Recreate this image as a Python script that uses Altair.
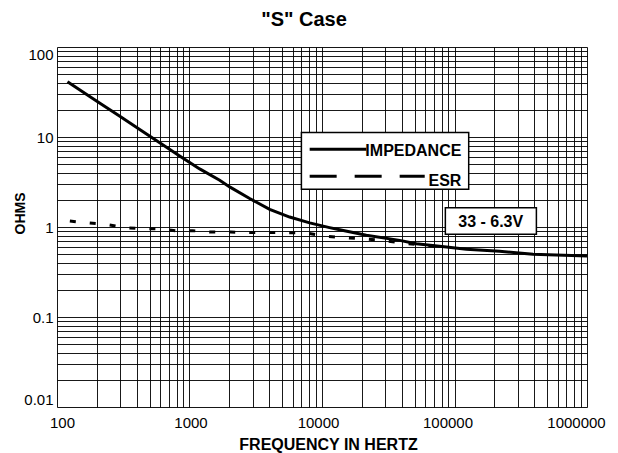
import altair as alt
import pandas as pd

# ---- data ----
imp_freq = [120, 200, 300, 421, 596, 843, 1194, 1690, 2010, 2845, 4030, 5700,
            8070, 11400, 13600, 21600, 38600, 51500, 87000, 123000, 219000, 392000, 1000000]
imp_ohms = [41, 25.0, 16.9, 12.1, 8.65, 6.15, 4.42, 3.31, 2.79, 2.07, 1.57, 1.29,
            1.11, 0.985, 0.93, 0.81, 0.71, 0.65, 0.60, 0.565, 0.537, 0.497, 0.476]

esr_freq = [125, 171, 237, 324, 421, 565, 787, 1057, 1445, 2046, 3000, 4500,
            6800, 8000, 10800, 14400, 20300, 28700, 40600, 60000, 87000]
esr_ohms = [1.166, 1.11, 1.064, 0.985, 0.96, 0.956, 0.91, 0.91, 0.88, 0.88,
            0.866, 0.866, 0.862, 0.845, 0.788, 0.76, 0.74, 0.71, 0.66, 0.625, 0.59]

x_decades = [100, 1000, 10000, 100000, 1000000]
y_decades = [0.01, 0.1, 1, 10, 100]
multiples = [1, 2, 3, 4, 5, 6, 7, 8, 9]

series_names = ["IMPEDANCE", "ESR"]
note_text = "33 - 6.3V"
title_text = '"S" Case'

# grid tick values (every 1..9 multiple inside each decade)
x_ticks = sorted({round(d * m, 6) for d in x_decades[:-1] for m in multiples} | {x_decades[-1]})
y_ticks = sorted({round(d * m, 6) for d in y_decades[:-1] for m in multiples} | {y_decades[-1]})

imp_df = pd.DataFrame({"f": imp_freq, "z": imp_ohms})
esr_df = pd.DataFrame({"f": esr_freq, "z": esr_ohms})

# annotation anchor positions in data units (frequency, ohms)
legend_box = pd.DataFrame({"f": [6990], "f2": [128000], "z": [11.2], "z2": [2.63]})
legend_lines = pd.DataFrame({"f": [8070, 8070], "f2": [21600, 59600],
                             "z": [7.31, 3.66], "name": series_names})
legend_text = pd.DataFrame({"f": [112700, 112700], "z": [7.05, 3.22], "name": series_names})
note_box = pd.DataFrame({"f": [85300], "f2": [415000], "z": [1.64], "z2": [0.83]})
note_lbl = pd.DataFrame({"f": [187600], "z": [1.15], "t": [note_text]})
title_df = pd.DataFrame({"t": [title_text]})

FONT = "Liberation Sans"

xscale = alt.Scale(type="log", domain=[100, 1000000], nice=False)
yscale = alt.Scale(type="log", domain=[0.01, 100], nice=False)

x_label_shift = {
    "condition": [
        {"test": "datum.value == 100", "value": 5},
        {"test": "datum.value == 1000", "value": 1},
        {"test": "datum.value == 10000", "value": -4},
        {"test": "datum.value == 100000", "value": -7},
        {"test": "datum.value == 1000000", "value": -11},
    ],
    "value": 0,
}

x_axis = alt.Axis(
    values=x_ticks, format="d",
    labelExpr="indexof([100,1000,10000,100000,1000000], datum.value) >= 0 ? datum.label : ''",
    grid=True, ticks=False, domain=False, labelOverlap=False, labelFlush=False,
    labelOffset=x_label_shift,
    labelFontSize=15, labelFont=FONT, labelColor="black", labelPadding=8,
    title="FREQUENCY IN HERTZ", titleFont=FONT, titleFontSize=16, titleFontWeight="bold",
    titleColor="black", titleX=271, titleY=37, titleAlign="center", titleBaseline="middle",
    gridColor="black", gridWidth=1, gridOpacity=0.9,
)
y_axis = alt.Axis(
    values=y_ticks, format="~g",
    labelExpr="indexof([0.01,0.1,1,10,100], datum.value) >= 0 ? datum.label : ''",
    grid=True, ticks=False, domain=False, labelOverlap=False, labelFlush=True,
    labelFontSize=15, labelFont=FONT, labelColor="black", labelPadding=4,
    title="OHMS", titleFont=FONT, titleFontSize=14, titleFontWeight="bold",
    titleColor="black", titleX=-37, titleY=166, titleAngle=270,
    titleAlign="center", titleBaseline="middle",
    gridColor="black", gridWidth=1, gridOpacity=0.9,
)

X = alt.X("f:Q", scale=xscale, axis=x_axis)
Y = alt.Y("z:Q", scale=yscale, axis=y_axis)

imp = alt.Chart(imp_df).mark_line(color="black", strokeWidth=3).encode(x=X, y=Y)
esr = alt.Chart(esr_df).mark_line(color="black", strokeWidth=3, strokeDash=[6, 14]).encode(x=X, y=Y)

lbox = alt.Chart(legend_box).mark_rect(fill="white", stroke="black", strokeWidth=1.5).encode(
    x=X, x2="f2:Q", y=Y, y2="z2:Q",
)
lsolid = alt.Chart(legend_lines).transform_filter("datum.name == 'IMPEDANCE'").mark_rule(
    color="black", strokeWidth=3).encode(x=X, x2="f2:Q", y=Y)
ldash = alt.Chart(legend_lines).transform_filter("datum.name == 'ESR'").mark_rule(
    color="black", strokeWidth=3, strokeDash=[27, 18]).encode(x=X, x2="f2:Q", y=Y)
ltext = alt.Chart(legend_text).mark_text(
    align="right", baseline="middle", font=FONT, fontSize=16, fontWeight="bold", color="black"
).encode(x=X, y=Y, text="name:N")
nbox = alt.Chart(note_box).mark_rect(fill="white", stroke="black", strokeWidth=1.5).encode(
    x=X, x2="f2:Q", y=Y, y2="z2:Q",
)
ntext = alt.Chart(note_lbl).mark_text(
    align="center", baseline="middle", font=FONT, fontSize=16, fontWeight="bold", color="black"
).encode(x=X, y=Y, text="t:N")

# chart title, drawn as a text mark above the plot area
ttl = alt.Chart(title_df).mark_text(
    align="center", baseline="middle", font=FONT, fontSize=20, fontWeight="bold", color="black"
).encode(x=alt.value(247), y=alt.value(-27), text="t:N")

chart = alt.layer(imp, esr, lbox, lsolid, ldash, ltext, nbox, ntext, ttl).properties(
    width=530, height=360,
    autosize=alt.AutoSizeParams(type="none"),
    padding={"left": 49, "top": 39, "right": 23, "bottom": 46},
).configure_view(stroke="black", strokeWidth=2).configure(background="white")

chart.save("out.html", embed_options={"renderer": "svg", "actions": False})
